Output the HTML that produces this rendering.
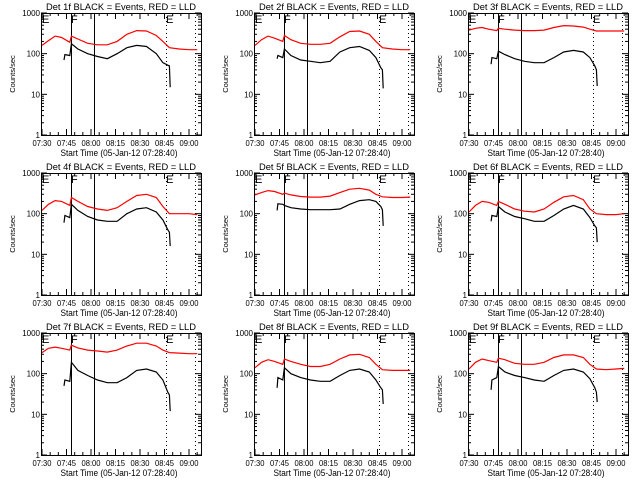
<!DOCTYPE html>
<html><head><meta charset="utf-8"><style>
html,body{margin:0;padding:0;background:#fff;}
svg{display:block;font-family:"Liberation Sans",sans-serif;}
</style></head><body>
<svg id="chart" width="640" height="480" viewBox="0 0 640 480" xmlns="http://www.w3.org/2000/svg"></svg>
<script>
// Shared sample times (minutes after 07:30)
const redTimes = [0,4,8,12,17,18,22,28,34,40,46,52,58,64,70,74,78,84,90,95];
const blackTimes = [13.5,14,17,18,22,28,34,40,46,52,58,64,70,74,77,78,78.5];
const detLabels = ["1f","2f","3f","4f","5f","6f","7f","8f","9f"];
const xTickLabels = ["07:30","07:45","08:00","08:15","08:30","08:45","09:00"];
const yTickValues = [1,10,100,1000];
const markerTimes = [17.6,31.7,75.9,93.7];
const red1 = [160,210,270,250,190,270,230,180,165,165,200,300,370,360,280,200,140,130,125,125];
const red2 = [160,220,270,240,200,280,220,180,170,170,180,260,350,360,300,200,140,130,125,125];
const red3 = [380,420,440,400,370,420,400,380,370,370,380,440,490,480,450,400,360,360,360,360];
const red4 = [120,170,210,200,160,250,200,150,130,120,140,200,280,300,250,150,100,100,100,95];
const red5 = [290,330,370,350,300,320,290,265,255,255,270,330,400,420,380,300,260,250,250,255];
const red6 = [110,160,200,190,160,200,170,130,115,110,130,190,260,280,220,130,100,95,95,100];
const red7 = [330,420,450,420,380,500,430,380,360,340,380,480,560,560,480,380,330,320,310,310];
const red8 = [140,190,220,200,170,230,200,170,150,150,170,230,290,300,250,170,125,120,120,120];
const red9 = [130,190,230,210,190,240,220,180,170,170,190,250,290,290,250,170,130,125,130,135];
const black1 = [70,95,90,175,130,100,85,75,100,140,160,150,100,60,52,50,15];
const black2 = [75,90,80,130,90,70,65,60,65,110,140,150,120,80,45,40,14];
const black3 = [55,80,75,115,95,75,65,60,60,80,110,120,110,80,50,40,16];
const black4 = [60,90,80,170,120,85,70,65,65,100,130,140,110,70,40,35,16];
const black5 = [120,175,170,160,140,130,125,125,125,130,170,210,220,200,150,125,50];
const black6 = [65,90,85,150,110,85,75,65,65,90,130,160,130,80,50,45,20];
const black7 = [50,70,65,190,120,90,70,60,60,80,120,130,110,70,35,30,12];
const black8 = [45,80,70,140,100,80,70,65,65,90,120,130,110,70,45,40,18];
const black9 = [40,70,80,150,110,90,80,70,65,90,120,130,110,75,45,35,20];
const redSeries = [red1,red2,red3,red4,red5,red6,red7,red8,red9];
const blackSeries = [black1,black2,black3,black4,black5,black6,black7,black8,black9];

const NS="http://www.w3.org/2000/svg";
const svg=document.getElementById('chart');
function mk(tag,attrs,parent){const e=document.createElementNS(NS,tag);for(const k in attrs)e.setAttribute(k,attrs[k]);(parent||svg).appendChild(e);return e;}
const colLeft=[41,254,468], rowTop=[13,173,333];
const W=160,H=122;
for(let p=0;p<9;p++){
  const L=colLeft[p%3], T=rowTop[Math.floor(p/3)];
  const xs=t=>L+1+t*24.5/15;
  const ys=v=>T+(3-Math.log10(v))*H/3;
  const g=mk('g',{});
  
  
  const box=mk('rect',{x:L+0.5,y:T+0.5,width:W,height:H,fill:'none',stroke:'#000','stroke-width':1},g);
  
  
  const title=mk('text',{x:L+W/2,y:T-3,'text-anchor':'middle','font-size':9.5,'textLength':150,'lengthAdjust':'spacingAndGlyphs'},g);
  title.textContent='Det '+detLabels[p]+' BLACK = Events, RED = LLD';
  
  
  yTickValues.forEach(v=>{
    const y=ys(v);
    mk('line',{x1:L,x2:L+6,y1:y,y2:y,stroke:'#000'},g);
    mk('line',{x1:L+W,x2:L+W-6,y1:y,y2:y,stroke:'#000'},g);
    const t=mk('text',{x:L-1,y:y+3,'text-anchor':'end','font-size':8},g);
    t.textContent=String(v);
    
    
    if(v<1000){for(let m=2;m<10;m++){const ym=ys(v*m);
      mk('line',{x1:L,x2:L+3,y1:ym,y2:ym,stroke:'#000'},g);
      mk('line',{x1:L+W,x2:L+W-3,y1:ym,y2:ym,stroke:'#000'},g);}}
  });
  const yl=mk('text',{x:0,y:0,'text-anchor':'middle','font-size':7.5,transform:'translate('+(L-26)+','+(T+H/2)+') rotate(-90)'},g);
  yl.textContent='Counts/sec';
  
  
  xTickLabels.forEach((lab,i)=>{
    const x=xs(i*15);
    mk('line',{x1:x,x2:x,y1:T+H,y2:T+H-6,stroke:'#000'},g);
    mk('line',{x1:x,x2:x,y1:T,y2:T+6,stroke:'#000'},g);
    for(let m=1;m<3;m++){const xm=xs(i*15+m*5);if(xm<L+W){
      mk('line',{x1:xm,x2:xm,y1:T+H,y2:T+H-3,stroke:'#000'},g);
      mk('line',{x1:xm,x2:xm,y1:T,y2:T+3,stroke:'#000'},g);}}
    const t=mk('text',{x:x,y:T+H+11,'text-anchor':'middle','font-size':8,'textLength':19,'lengthAdjust':'spacingAndGlyphs'},g);
    t.textContent=lab;
    
    
  });
  const xl=mk('text',{x:L+W/2-2,y:T+H+21,'text-anchor':'middle','font-size':9,'textLength':117,'lengthAdjust':'spacingAndGlyphs'},g);
  xl.textContent='Start Time (05-Jan-12 07:28:40)';
  
  
  markerTimes.forEach((mt,i)=>{
    const x=Math.round(xs(mt))+0.5;
    const ln=mk('line',{x1:x,x2:x,y1:T,y2:T+H,stroke:'#000','stroke-width':1,'stroke-dasharray':i>=2?'1,3':'none'},g);
    
    
  });
  [['E',L+1],['F',L+30],['E',L+125]].forEach(([s,x])=>{
    const t=mk('text',{x:x,y:T+10,'font-size':11},g);
    t.textContent=s;
    
    
  });
  const rp=redSeries[p].map((v,i)=>xs(redTimes[i]).toFixed(1)+','+ys(v).toFixed(1)).join(' ');
  const r=mk('polyline',{points:rp,fill:'none',stroke:'#ff0000','stroke-width':1.2},g);
  
  
  const bp=blackSeries[p].map((v,i)=>xs(blackTimes[i]).toFixed(1)+','+ys(v).toFixed(1)).join(' ');
  const b=mk('polyline',{points:bp,fill:'none',stroke:'#000','stroke-width':1.2},g);
  
  
}
</script>
</body></html>
